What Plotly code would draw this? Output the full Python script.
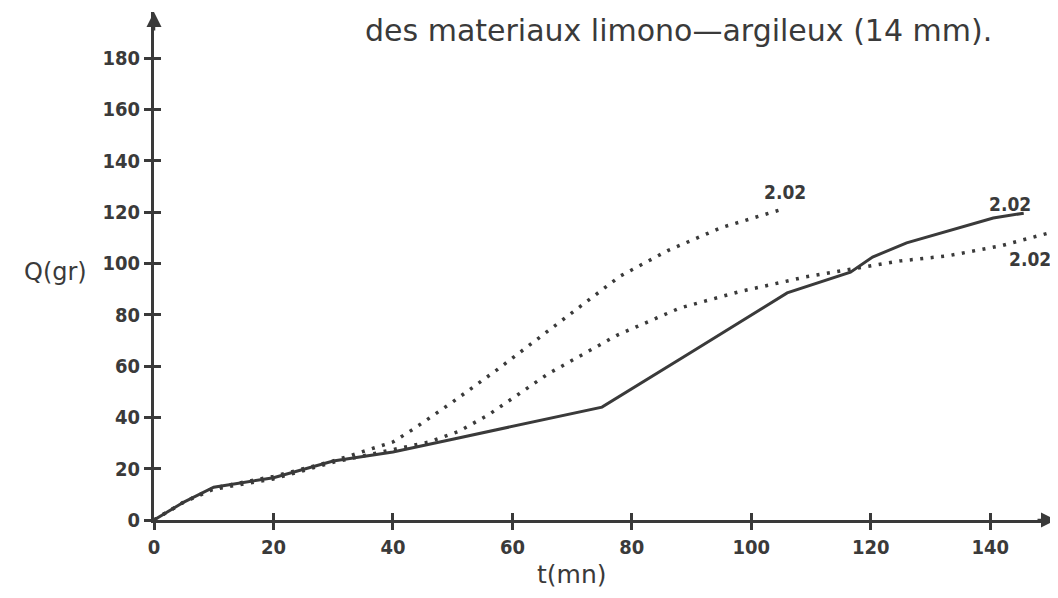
import plotly.graph_objects as go

# Data
t_solid = [0, 5, 10, 20, 30, 40, 50, 60, 75, 90, 106, 116.6, 120.3, 126, 140.5, 145.6]
q_solid = [0, 7, 12.8, 16.5, 23, 26.5, 31.5, 36.5, 44, 65.5, 88.5, 96.6, 102.5, 108, 117.7, 119.6]

t_dot_up = [0, 5, 10, 20, 30, 34, 40, 43.4, 50, 57.4, 70, 78, 86, 95, 105]
q_dot_up = [0, 7, 12.5, 17, 23, 26, 30.4, 35.4, 46, 58.5, 81, 95, 105, 114, 121]

t_dot_low = [0, 5, 10, 20, 30, 40, 46, 51, 56, 66, 77.5, 88, 98, 109, 116.5, 125, 133, 142, 150]
q_dot_low = [0, 7, 12, 16, 22.5, 27.3, 30.4, 34.5, 41, 57, 72, 82.6, 89, 94.7, 97.6, 101, 103, 107, 112]

x_ticks = [0, 20, 40, 60, 80, 100, 120, 140]
y_ticks = [0, 20, 40, 60, 80, 100, 120, 140, 160, 180]

title_text = "des materiaux limono\u2014argileux (14 mm)."
curve_label = "2.02"
x_title = "t(mn)"
y_title = "Q(gr)"

INK = "#3a3a3a"
FONT = "DejaVu Sans"
FONT_C = "DejaVu Sans Condensed, DejaVu Sans"

# page body has an 8px margin -> figure is offset by 8px in the window
OFF = 8
FW, FH = 1050, 590
ML, MR, MT, MB = 146, 8, 4, 78
PW, PH = FW - ML - MR, FH - MT - MB

def scr(sx, sy):
    return (sx - OFF - ML) / PW, (FH - MB - (sy - OFF)) / PH

fig = go.Figure()
fig.add_trace(go.Scatter(x=t_dot_up, y=q_dot_up, mode="lines",
                         line=dict(color=INK, width=3.5, dash="3px,7.5px"), showlegend=False))
fig.add_trace(go.Scatter(x=t_dot_low, y=q_dot_low, mode="lines",
                         line=dict(color=INK, width=3.5, dash="3px,7.5px"), showlegend=False))
fig.add_trace(go.Scatter(x=t_solid, y=q_solid, mode="lines",
                         line=dict(color=INK, width=3), showlegend=False))
# invisible trace on overlay axes (for the inner half of the cross ticks)
fig.add_trace(go.Scatter(x=[0], y=[0], xaxis="x2", yaxis="y2", mode="markers",
                         marker=dict(opacity=0), showlegend=False, hoverinfo="skip"))

XR = [0, 150]
YR = [0, 198]
tickfont = dict(family=FONT_C, size=20, color=INK, weight="bold")

fig.update_layout(
    width=FW, height=FH,
    margin=dict(l=ML, r=MR, t=MT, b=MB),
    paper_bgcolor="white", plot_bgcolor="white",
    font=dict(family=FONT, color=INK),
    xaxis=dict(range=XR, tickvals=x_ticks, ticks="outside", ticklen=7, tickwidth=2.5,
               tickcolor=INK, showgrid=False, zeroline=False, showline=True,
               linecolor=INK, linewidth=3, tickfont=tickfont, automargin=False),
    yaxis=dict(range=YR, tickvals=y_ticks, ticks="outside", ticklen=7, tickwidth=2.5,
               tickcolor=INK, showgrid=False, zeroline=False, showline=True,
               linecolor=INK, linewidth=3, tickfont=tickfont, automargin=False),
    xaxis2=dict(range=XR, tickvals=x_ticks, ticks="inside", ticklen=7, tickwidth=2.5,
                tickcolor=INK, showticklabels=False, showgrid=False, zeroline=False,
                overlaying="x", anchor="y2"),
    yaxis2=dict(range=YR, tickvals=y_ticks, ticks="inside", ticklen=7, tickwidth=2.5,
                tickcolor=INK, showticklabels=False, showgrid=False, zeroline=False,
                overlaying="y", anchor="x2"),
)

final = []
def add_text(text, sx, sy, font):
    xp, yp = scr(sx, sy)
    final.append(dict(text=text, x=xp, y=yp, xref="paper", yref="paper",
                      showarrow=False, font=font, xanchor="center", yanchor="middle"))

add_text(y_title, 55, 272, dict(family=FONT, size=24, color=INK))
add_text(x_title, 572, 574, dict(family=FONT, size=25, color=INK))
add_text(title_text, 678, 30, dict(family=FONT, size=30, color=INK))
lab_font = dict(family=FONT_C, size=19, color=INK, weight="bold")
add_text(curve_label, 785, 192, lab_font)
add_text(curve_label, 1010, 204, lab_font)
add_text(curve_label, 1030, 259, lab_font)

# axis arrowheads
final.append(dict(x=0, y=1.0, xref="paper", yref="paper", ax=0, ay=20,
                  showarrow=True, arrowhead=2, arrowsize=1.2, arrowwidth=2.5,
                  arrowcolor=INK, text=""))
final.append(dict(x=1.0 + 6 / PW, y=0, xref="paper", yref="paper", ax=-20, ay=0,
                  showarrow=True, arrowhead=2, arrowsize=1.2, arrowwidth=2.5,
                  arrowcolor=INK, text=""))

fig.update_layout(annotations=final)
fig.write_html("out.html")
